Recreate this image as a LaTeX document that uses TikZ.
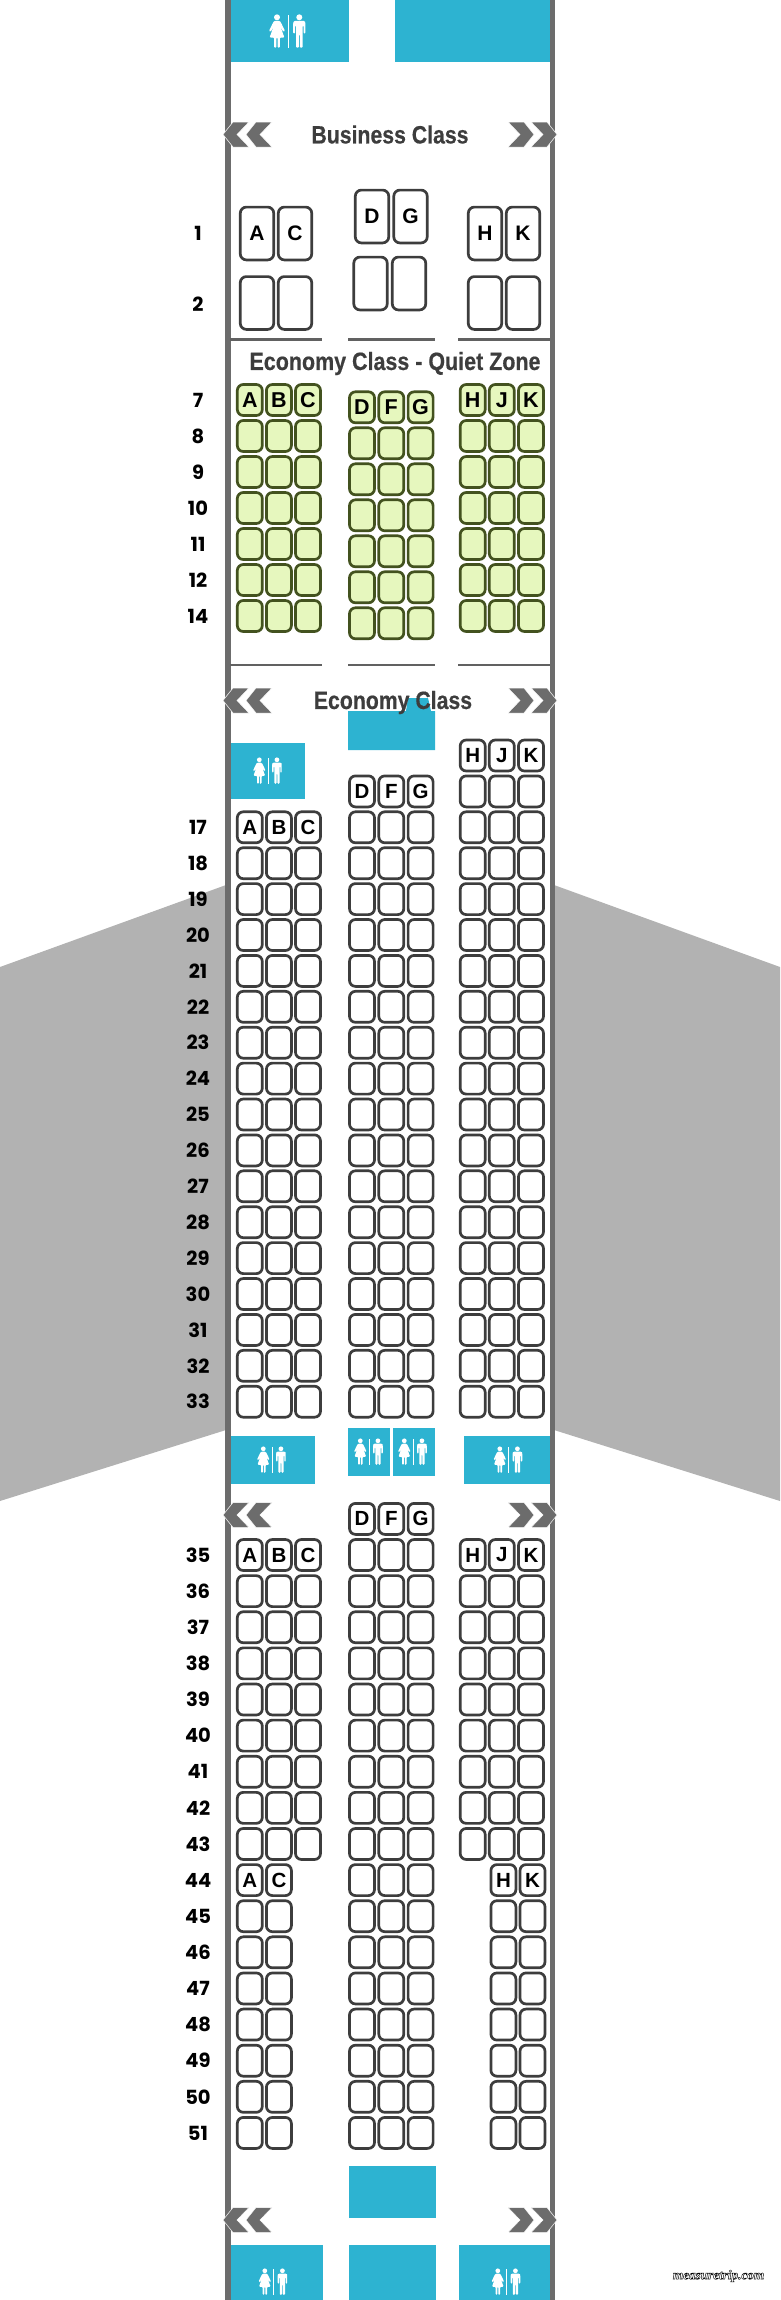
\documentclass[tikz,border=0pt]{standalone}
\usepackage{fontspec}
\setmainfont{Liberation Sans}
\newfontfamily\rowfont{Poppins}
\newfontfamily\markfont{Liberation Serif}
\newfontfamily\titlefont{Liberation Sans}[BoldFeatures={FakeBold=0.5}]
\definecolor{lavblue}{HTML}{2DB3D1}
\definecolor{wallgrey}{HTML}{6C6C6C}
\definecolor{winggrey}{HTML}{B2B2B2}
\definecolor{seatline}{HTML}{3D3D3D}
\definecolor{quietfill}{HTML}{E6F7BE}
\definecolor{quietline}{HTML}{43521F}
\definecolor{titlegrey}{HTML}{3D3D3D}
\tikzset{
  x=1pt,y=-1pt,
  wingshape/.style={fill=winggrey,draw=none},
  wallshape/.style={fill=wallgrey,draw=none},
  lavshape/.style={fill=lavblue,draw=none},
  sepline/.style={draw=wallgrey!90!black,line width=2.4pt},
  seat/.style={draw=seatline,fill=white,line width=2.7pt,rounded corners=6pt,inner sep=0pt,outer sep=0pt,
    minimum width=25pt,minimum height=31pt,text=black,font=\fontsize{20.5}{20.5}\selectfont\bfseries,anchor=center},
  bizseat/.style={seat,minimum width=33.4pt,minimum height=52.8pt,font=\fontsize{21}{21}\selectfont\bfseries},
  qseat/.style={seat,draw=quietline,fill=quietfill,font=\fontsize{21.5}{21.5}\selectfont\bfseries},
  rowlabel/.style={inner sep=0pt,text=black,font=\rowfont\fontsize{19.5}{19.5}\selectfont\bfseries},
  classlabel/.style={inner sep=0pt,transform shape,xscale=.85,text=titlegrey,font=\titlefont\fontsize{25}{25}\selectfont\bfseries},
  chevl/.pic={
    \fill[wallgrey,draw=white,line width=.5pt] (223,0)--(233,-12.5)--(249,-12.5)--(237,0)--(249,12.5)--(233,12.5)--cycle;
    \fill[wallgrey,draw=white,line width=.5pt] (246,0)--(256,-12.5)--(272,-12.5)--(260,0)--(272,12.5)--(256,12.5)--cycle;
  },
  chevr/.pic={
    \fill[wallgrey,draw=white,line width=.5pt] (557,0)--(547,-12.5)--(531,-12.5)--(543,0)--(531,12.5)--(547,12.5)--cycle;
    \fill[wallgrey,draw=white,line width=.5pt] (534,0)--(524,-12.5)--(508,-12.5)--(520,0)--(508,12.5)--(524,12.5)--cycle;
  },
  wc/.pic={
    % woman
    \fill[white] (-11,-14.2) circle[radius=3];
    \fill[white,rounded corners=1pt] (-14,-10.6)--(-8,-10.6)--(-6.6,-8)--(-3,-0.5)--(-4.6,0.4)--(-7.6,-5)--(-3.6,6)--(-8.2,6)--(-8.2,16.2)--(-10.4,16.2)--(-10.4,6)--(-11.6,6)--(-11.6,16.2)--(-13.8,16.2)--(-13.8,6)--(-18.4,6)--(-14.4,-5)--(-17.4,0.4)--(-19,-0.5)--(-15.4,-8)--cycle;
    % divider
    \fill[white] (-0.4,-16.5) rectangle (0.6,16.5);
    % man
    \fill[white] (11.3,-14.2) circle[radius=3];
    \fill[white,rounded corners=1pt] (6,-10.6)--(16.6,-10.6)--(17.4,-9)--(17.4,2)--(15.6,2)--(15.6,-6)--(14.6,-6)--(14.6,16.2)--(11.8,16.2)--(11.8,3)--(10.8,3)--(10.8,16.2)--(8,16.2)--(8,-6)--(7,-6)--(7,2)--(5.2,2)--(5.2,-9)--cycle;
  },
}
\begin{document}
\begin{tikzpicture}
\useasboundingbox (0,0) rectangle (780,2300);
% wings
\path[wingshape] (226,885)--(0,967)--(0,1501)--(226,1430)--cycle;
\path[wingshape] (554,885)--(780,967)--(780,1501)--(554,1430)--cycle;
% walls
\path[wallshape] (225,0) rectangle (230.5,2300);
\path[wallshape] (550,0) rectangle (555,2300);
% lavatories and galleys
\path[lavshape] (230.5,0) rectangle (349,62);
\path[lavshape] (395,0) rectangle (550,62);
\path[lavshape] (348,711)--(406,711)--(408,698)--(428,698)--(431,711)--(435,711)--(435,750)--(348,750)--cycle;
\path[lavshape] (230.5,743) rectangle (305,799);
\path[lavshape] (230.5,1436) rectangle (315,1484);
\path[lavshape] (348,1428) rectangle (390,1476);
\path[lavshape] (392.5,1428) rectangle (434.5,1476);
\path[lavshape] (464,1436) rectangle (550,1484);
\path[lavshape] (349,2166) rectangle (436,2218);
\path[lavshape] (230.5,2245) rectangle (323,2300);
\path[lavshape] (349,2245) rectangle (436,2300);
\path[lavshape] (459,2245) rectangle (550,2300);
% icons
\pic[scale=1] at (288,31.5) {wc};
\pic[scale=.79] at (268,771) {wc};
\pic[scale=.79] at (272,1460) {wc};
\pic[scale=.79] at (369,1452) {wc};
\pic[scale=.79] at (413,1452) {wc};
\pic[scale=.79] at (508.5,1460) {wc};
\pic[scale=.79] at (273.5,2282) {wc};
\pic[scale=.79] at (506.5,2282) {wc};
% chevrons
\foreach \yy in {134.5,700.5,1515,2220}{
  \pic at (0,\yy) {chevl};
  \pic at (0,\yy) {chevr};
}
% separators
\foreach \yy in {339.5,665}{
  \path[sepline] (230,\yy)--(322,\yy);
  \path[sepline] (348,\yy)--(435,\yy);
  \path[sepline] (458,\yy)--(550,\yy);
}
% class titles
\node[classlabel] (tbiz) at (390,134.5) {Business Class};
\node[classlabel,xscale=1.01] (tquiet) at (395,363.5) {Economy Class - Quiet Zone};
\node[classlabel] (teco) at (393,702.5) {Economy Class};
% business seats
\node[bizseat] (b1a) at (257,233.5) {A};
\node[bizseat] (b1c) at (295,233.5) {C};
\node[bizseat] (b2a) at (257,303) {};
\node[bizseat] (b2c) at (295,303) {};
\node[bizseat] (b1d) at (372,216.5) {D};
\node[bizseat] (b1g) at (410.5,216.5) {G};
\node[bizseat] (b2d) at (370.5,283.5) {};
\node[bizseat] (b2g) at (409,283.5) {};
\node[bizseat] (b1h) at (485,233.5) {H};
\node[bizseat] (b1k) at (523,233.5) {K};
\node[bizseat] (b2h) at (485,303) {};
\node[bizseat] (b2k) at (523,303) {};
\node[rowlabel] (rb1) at (198,233) {1};
\node[rowlabel] (rb2) at (198,304) {2};
% quiet zone
\foreach \i/\k in {0/7,1/8,2/9,3/10,4/11,5/12,6/14}{
  \pgfmathsetmacro\yy{400+36*\i}
  \pgfmathsetmacro\yc{407.3+36*\i}
  \node[rowlabel] (rq\k) at (198,\yy) {\k};
  \foreach \c/\x in {A/249.8,B/278.9,C/308,H/472.7,J/501.8,K/531}{
    \node[qseat] (q\k\c) at (\x,\yy) {\ifnum\k=7 \c\fi};
  }
  \foreach \c/\x in {D/362,F/391.3,G/420.6}{
    \node[qseat] (q\k\c) at (\x,\yc) {\ifnum\k=7 \c\fi};
  }
}
% forward economy
\foreach \k in {15,...,33}{
  \pgfmathsetmacro\yy{827.3+35.9*(\k-17)}
  \ifnum\k>16 \node[rowlabel] (re\k) at (198,\yy) {\k}; \fi
  \ifnum\k>16
    \foreach \c/\x in {A/249.8,B/278.9,C/308}{
      \node[seat] (e\k\c) at (\x,\yy) {\ifnum\k=17 \c\fi};
    }
  \fi
  \ifnum\k>15
    \foreach \c/\x in {D/362,F/391.3,G/420.6}{
      \node[seat] (e\k\c) at (\x,\yy) {\ifnum\k=16 \c\fi};
    }
  \fi
  \foreach \c/\x in {H/472.7,J/501.8,K/531}{
    \node[seat] (e\k\c) at (\x,\yy) {\ifnum\k=15 \c\fi};
  }
}
% rear economy
\foreach \k in {34,...,51}{
  \pgfmathsetmacro\yy{1555+36.12*(\k-35)}
  \foreach \c/\x in {D/362,F/391.3,G/420.6}{
    \node[seat] (e\k\c) at (\x,\yy) {\ifnum\k=34 \c\fi};
  }
  \ifnum\k>34
    \node[rowlabel] (re\k) at (198,\yy) {\k};
    \ifnum\k<44
      \foreach \c/\x in {A/249.8,B/278.9,C/308,H/472.7,J/501.8,K/531}{
        \node[seat] (e\k\c) at (\x,\yy) {\ifnum\k=35 \c\fi};
      }
    \else
      \node[seat] (e\k A) at (249.8,\yy) {\ifnum\k=44 A\fi};
      \node[seat] (e\k C) at (278.9,\yy) {\ifnum\k=44 C\fi};
      \node[seat] (e\k H) at (503.4,\yy) {\ifnum\k=44 H\fi};
      \node[seat] (e\k K) at (532.5,\yy) {\ifnum\k=44 K\fi};
    \fi
  \fi
}
% watermark
\node[inner sep=0pt,font=\markfont\fontsize{13.2}{13.2}\selectfont\bfseries\itshape] (mark) at (718.5,2276)
  {\special{pdf:code q 2 Tr 0.45 w 0 0 0 RG 1 1 1 rg}measuretrip.com\special{pdf:code Q}};
\end{tikzpicture}
\end{document}
